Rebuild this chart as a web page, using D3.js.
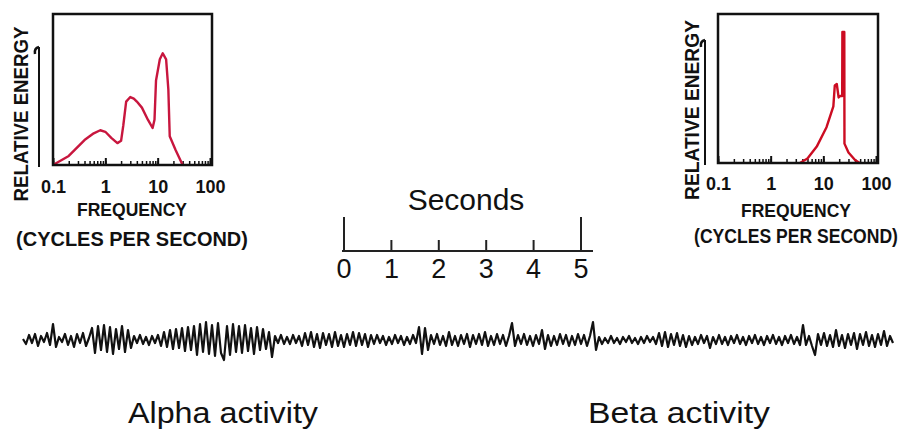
<!DOCTYPE html>
<html>
<head>
<meta charset="utf-8">
<script src="https://cdn.jsdelivr.net/npm/d3@7"></script>
<style>
  body { margin: 0; background: #fff; }
  svg { display: block; }
  text { font-family: "Liberation Sans", Arial, Helvetica, sans-serif; }
</style>
</head>
<body>
<div id="chart"></div>
<script>
var svgWidth = 905;
var svgHeight = 438;

// spectrum of alpha activity (frequency in Hz, relative energy 0..1)
var alphaFreq = [0.1, 0.2, 0.4, 0.6, 0.8, 1.0, 1.3, 1.7, 2.0, 2.2, 2.5, 3, 3.5, 4, 5, 6.5, 8, 8.7, 9.3, 11, 12.5, 14.5, 16, 17, 22, 30];
var alphaEnergy = [0, 0.06, 0.165, 0.21, 0.23, 0.22, 0.18, 0.145, 0.16, 0.26, 0.42, 0.45, 0.44, 0.42, 0.38, 0.3, 0.245, 0.3, 0.56, 0.7, 0.74, 0.7, 0.5, 0.19, 0.1, 0];

// spectrum of beta activity
var betaFreq = [3.6, 5, 7.5, 11.5, 15.5, 16.5, 18, 19.5, 21, 22.8, 23, 25, 25.2, 30, 40, 49];
var betaEnergy = [0, 0.03, 0.11, 0.24, 0.38, 0.52, 0.53, 0.44, 0.45, 0.45, 0.88, 0.88, 0.13, 0.07, 0.02, 0];

var freqTicks = [0.1, 1, 10, 100];
var freqTickLabels = ["0.1", "1", "10", "100"];
var secondTicks = [0, 1, 2, 3, 4, 5];
var secondTickLabels = ["0", "1", "2", "3", "4", "5"];

// EEG trace, amplitude at even steps left to right
var eegTrace = [
  1, -4, 5, -3, 6, -6, 4, -2, 7, -5, 16, -7, 3,
  -2, 6, -5, 4, -7, 6, -3, 7, -6, 2,
  12, -13, 14, -10, 15, -12, 13, -14, 11, -9, 14, -12, 10, -8,
  4, -3, 5, -4, 3, -5, 4, -3, 5,
  -6, 8, -7, 10, -9, 11, -8, 12, -11, 13, -10, 14,
  -15, 16, -12, 18, -14, 15, -16, 17, -13, -20, 14, -15, 16,
  -12, 14, -13, 15, -11, 12, -14, 13, -10, 11, -9, 8, -17,
  4, -3, 5, -4, 3, -4, 5, -3, 4,
  -6, 7, -5, 8, -7, 6, -8, 7, -5, 6, -7, 8, -6, 5, -7, 6, -5, 8, -6, 7, -5, 6, -7, 5,
  -4, 5, -3, 4, -5, 3, -4, 5, -3, 4, -5, 3, -4, 5, -3,
  13, -14, 12, -10,
  5, -4, 6, -5, 4, -6, 8, -5, 4, -6, 5, -4, 6, -7, 5, -4, 6, -5, 8, -6, 4, -5, 6, -4, 5, -6, 4,
  17,
  -6, 5, -4, 6, -5, 4, -6, 5, -4,
  10, -9,
  5, -6, 4, -5, 6, -4, 5, -6, 4, -5, 6, -4, 5, -6, 4,
  18, -10,
  3, -4, 2, -3, 4, -3, 2, -4, 3, -2, 4, -3, 2, -4, 3, -3, 4, -2, 3, -4,
  7, -6, 8, -7, 6, -5, 7, -6, 5, -7,
  4, -5, 3, -4, 5, -3, 4, -8, 3, -4,
  5, -4, 3, -5, 4, -3, 5, -4, 3, -5, 4, -3, 5, -4, 3, -5, 4, -3, 5, -4, 3, -5, 4, -3, 5, -4, 3, -5,
  15, -5, 4, -6, -15,
  6, -5, 7, -6, 5, -7, 10, -6, 5, -8, 6, -5, 7, -9, 6, -5, 8, -6, 5, -7, 6, -5, 9, -6, 4, -3
];

var svg = d3.select("#chart")
  .append("svg")
  .attr("width", svgWidth)
  .attr("height", svgHeight);

// text squeezed sideways to a given width (the figure uses a narrow face)
function narrowText(parent, str, x, y, width, size, bold, rotate) {
  var t = parent.append("text")
    .attr("text-anchor", "middle")
    .style("font-size", size + "px")
    .style("font-weight", bold ? "bold" : "normal")
    .attr("fill", "#111")
    .text(str);
  if (rotate) t.attr("dy", "0.36em");
  var k = width / t.node().getComputedTextLength();
  t.attr("transform", `translate(${x}, ${y})` + (rotate ? " rotate(-90)" : "") + ` scale(${k}, 1)`);
  return t;
}

// draws one small spectrum panel
function drawSpectrum(p, freq, energy, color) {
  var x = d3.scaleLog().domain([0.1, 100]).range([p.left, p.xEnd]);
  var y = d3.scaleLinear().domain([0, 1]).range([p.bottom, p.top]);

  var g = svg.append("g");

  // minor ticks pointing inward
  g.append("g")
    .attr("transform", `translate(0, ${p.bottom})`)
    .call(d3.axisBottom(x).tickValues(x.ticks()).tickSize(-4).tickFormat(""))
    .call(a => a.select(".domain").remove())
    .call(a => a.selectAll("line").attr("stroke", "#111").attr("stroke-width", 1.5));

  // major ticks and labels
  g.append("g")
    .attr("transform", `translate(0, ${p.bottom})`)
    .call(d3.axisBottom(x).tickValues(freqTicks).tickSize(-7).tickPadding(0)
      .tickFormat((d, i) => freqTickLabels[i]))
    .call(a => a.select(".domain").remove())
    .call(a => a.selectAll("line").attr("stroke", "#111").attr("stroke-width", 2))
    .call(a => a.selectAll("text")
      .attr("y", p.tickY - p.bottom)
      .attr("dy", 0)
      .attr("fill", "#111")
      .style("font-size", "18px")
      .style("font-weight", "bold"));

  // spectrum curve
  var line = d3.line()
    .x((d, i) => x(freq[i]))
    .y(d => y(d));

  g.append("path")
    .datum(energy)
    .attr("d", line)
    .attr("fill", "none")
    .attr("stroke", color)
    .attr("stroke-width", 2.4)
    .attr("stroke-linejoin", "round");

  // frame
  g.append("rect")
    .attr("x", p.left)
    .attr("y", p.top)
    .attr("width", p.right - p.left)
    .attr("height", p.bottom - p.top)
    .attr("fill", "none")
    .attr("stroke", "#111")
    .attr("stroke-width", 2.5);

  // arrow for the energy axis
  g.append("line")
    .attr("x1", p.arrowX).attr("x2", p.arrowX)
    .attr("y1", p.bottom + 2).attr("y2", p.arrowTop)
    .attr("stroke", "#111")
    .attr("stroke-width", 2);
  g.append("path")
    .attr("d", `M${p.arrowX},${p.arrowTop} q-5,1 -4,7`)
    .attr("fill", "none")
    .attr("stroke", "#111")
    .attr("stroke-width", 2.5);

  narrowText(g, "RELATIVE ENERGY", p.yLabelX, p.yLabelY, p.yLabelLen, 20, true, true);
  narrowText(g, "FREQUENCY", p.labelX, p.freqY, 110, 19, true, false);
  narrowText(g, "(CYCLES PER SECOND)", p.labelX, p.cyclesY, p.cyclesLen, 20, true, false);
}

drawSpectrum({left: 53, right: 212, xEnd: 210, top: 14, bottom: 165, tickY: 193,
  arrowX: 39, arrowTop: 47, yLabelX: 21, yLabelY: 114, yLabelLen: 175,
  labelX: 132, freqY: 216, cyclesY: 246, cyclesLen: 232},
  alphaFreq, alphaEnergy, "#c8163e");

drawSpectrum({left: 718, right: 878, xEnd: 876, top: 14, bottom: 163, tickY: 190,
  arrowX: 705, arrowTop: 40, yLabelX: 692, yLabelY: 110, yLabelLen: 180,
  labelX: 796, freqY: 217, cyclesY: 243, cyclesLen: 204},
  betaFreq, betaEnergy, "#cc0c22");

// time scale bar
var xSec = d3.scaleLinear().domain([0, 5]).range([344, 581]);
var scaleY = 251;

var scaleG = svg.append("g");
scaleG.append("line")
  .attr("x1", 342).attr("x2", 593)
  .attr("y1", scaleY).attr("y2", scaleY)
  .attr("stroke", "#222")
  .attr("stroke-width", 1.8);

scaleG.selectAll(".sec-tick")
  .data(secondTicks)
  .enter()
  .append("line")
  .attr("class", "sec-tick")
  .attr("x1", d => xSec(d)).attr("x2", d => xSec(d))
  .attr("y1", scaleY)
  .attr("y2", d => (d === 0 || d === 5) ? 217 : 240)
  .attr("stroke", "#222")
  .attr("stroke-width", 2);

scaleG.selectAll(".sec-label")
  .data(secondTicks)
  .enter()
  .append("text")
  .attr("class", "sec-label")
  .attr("x", d => xSec(d))
  .attr("y", 278)
  .attr("text-anchor", "middle")
  .style("font-size", "27px")
  .attr("fill", "#111")
  .text((d, i) => secondTickLabels[i]);

scaleG.append("text")
  .attr("x", 466)
  .attr("y", 210)
  .attr("text-anchor", "middle")
  .style("font-size", "30px")
  .attr("fill", "#111")
  .text("Seconds");

// EEG trace
var xEeg = d3.scaleLinear().domain([0, eegTrace.length - 1]).range([23, 893]);
var yEeg = d3.scaleLinear().domain([-20, 20]).range([360, 320]);

svg.append("path")
  .datum(eegTrace)
  .attr("d", d3.line().x((d, i) => xEeg(i)).y(d => yEeg(d)))
  .attr("fill", "none")
  .attr("stroke", "#111")
  .attr("stroke-width", 2.2)
  .attr("stroke-linejoin", "round");

// activity labels
svg.append("text")
  .attr("x", 128)
  .attr("y", 423)
  .attr("textLength", 190)
  .attr("lengthAdjust", "spacingAndGlyphs")
  .style("font-size", "30px")
  .attr("fill", "#111")
  .text("Alpha activity");

svg.append("text")
  .attr("x", 588)
  .attr("y", 423)
  .attr("textLength", 182)
  .attr("lengthAdjust", "spacingAndGlyphs")
  .style("font-size", "30px")
  .attr("fill", "#111")
  .text("Beta activity");
</script>
</body>
</html>
